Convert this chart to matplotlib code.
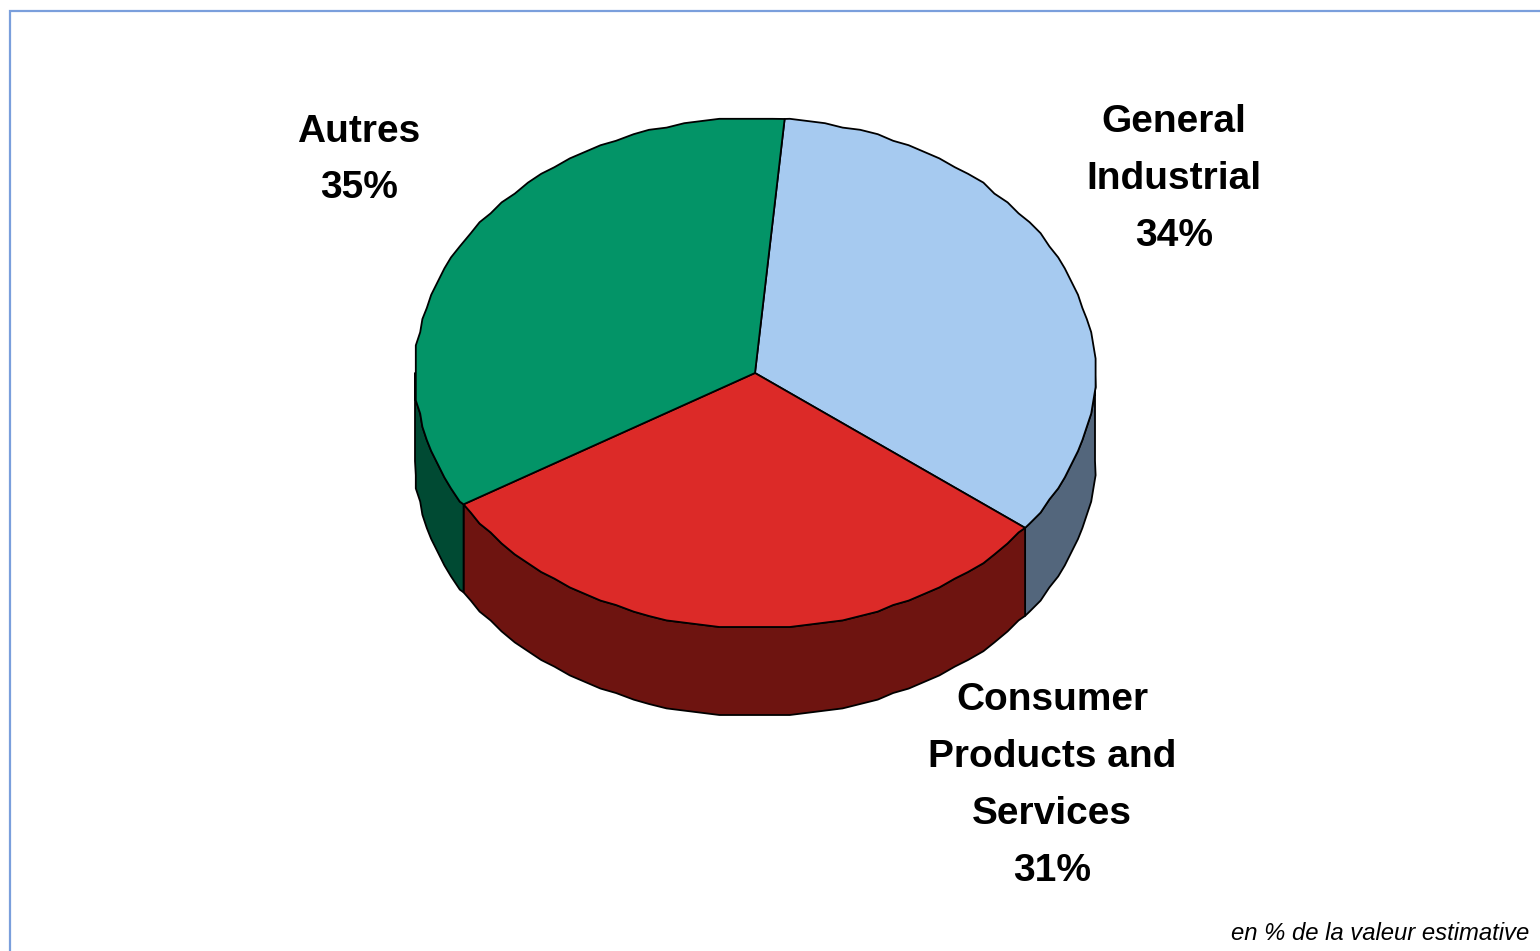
"""3D-style pie of sector shares, drawn from wedge polygons."""

import numpy as np
import matplotlib

matplotlib.use("Agg")
import matplotlib.pyplot as plt
from matplotlib.patches import Polygon

WIDTH, HEIGHT = 1540, 951

sectors = ["General Industrial", "Consumer Products and Services", "Autres"]
shares = [34, 31, 35]
label_lines = [
    ["General", "Industrial", "34%"],
    ["Consumer", "Products and", "Services", "31%"],
    ["Autres", "35%"],
]
top_colors = ["#A6CAF0", "#DC2A28", "#039467"]
side_colors = ["#53667C", "#6E1410", "#004A33"]
footnote = "en % de la valeur estimative"

# pie geometry in pixels
CX, CY = 755, 373
RX, RY = 340, 255
DEPTH = 88
START = 5.0  # degrees clockwise from the top of the disc
STEP = 3.0  # angular spacing of outline vertices
GRID = 2.2  # vertices are snapped to a small grid, which gives the stepped rim

plt.rcParams["font.family"] = ["Liberation Sans", "DejaVu Sans"]


def rim(a0, a1):
    """Points on the top ellipse between two clockwise angles."""
    inner = np.arange(np.ceil(a0 / STEP + 0.01), np.floor(a1 / STEP - 0.01) + 1) * STEP
    t = np.radians(np.concatenate([[a0], inner, [a1]]))
    pts = np.column_stack([CX + RX * np.sin(t), CY - RY * np.cos(t)])
    pts[1:-1] = np.round(pts[1:-1] / GRID) * GRID
    return pts


fig = plt.figure(figsize=(WIDTH / 100, HEIGHT / 100), dpi=100)
ax = fig.add_axes([0, 0, 1, 1])
ax.set_xlim(0, WIDTH)
ax.set_ylim(HEIGHT, 0)
ax.axis("off")

# chart frame, open at the right and bottom edges of the image
ax.plot([10, 10, WIDTH + 5], [HEIGHT + 5, 10.5, 10.5], color="#7A9FDC", lw=1.6,
        solid_joinstyle="miter", zorder=1)

edges = START + np.cumsum([0] + shares) * 3.6

# side walls only show on the lower half of the disc (90..270 degrees)
for i in range(len(shares)):
    a0, a1 = max(edges[i], 90), min(edges[i + 1], 270)
    if a0 >= a1:
        continue
    top = rim(a0, a1)
    low = top[::-1] + [0, DEPTH]
    ax.add_patch(Polygon(np.vstack([top, low]), closed=True, fc=side_colors[i],
                         ec="black", lw=1.3, joinstyle="round", zorder=2))

for i in range(len(shares)):
    arc = rim(edges[i], edges[i + 1])
    ax.add_patch(Polygon(np.vstack([[CX, CY], arc]), closed=True, fc=top_colors[i],
                         ec="black", lw=1.3, joinstyle="round", zorder=3))

label_pos = [(1174, 179), (1052, 785.5), (359, 160)]
for lines, (x, y) in zip(label_lines, label_pos):
    ax.text(x, y, "\n".join(lines), ha="center", va="center", fontsize=28,
            fontweight="bold", color="black", linespacing=1.75, zorder=4)

ax.text(1529, 933, footnote, ha="right", va="center", fontsize=17.2, style="italic",
        color="black", zorder=4)

fig.savefig("out.png", dpi=100)
plt.close(fig)
